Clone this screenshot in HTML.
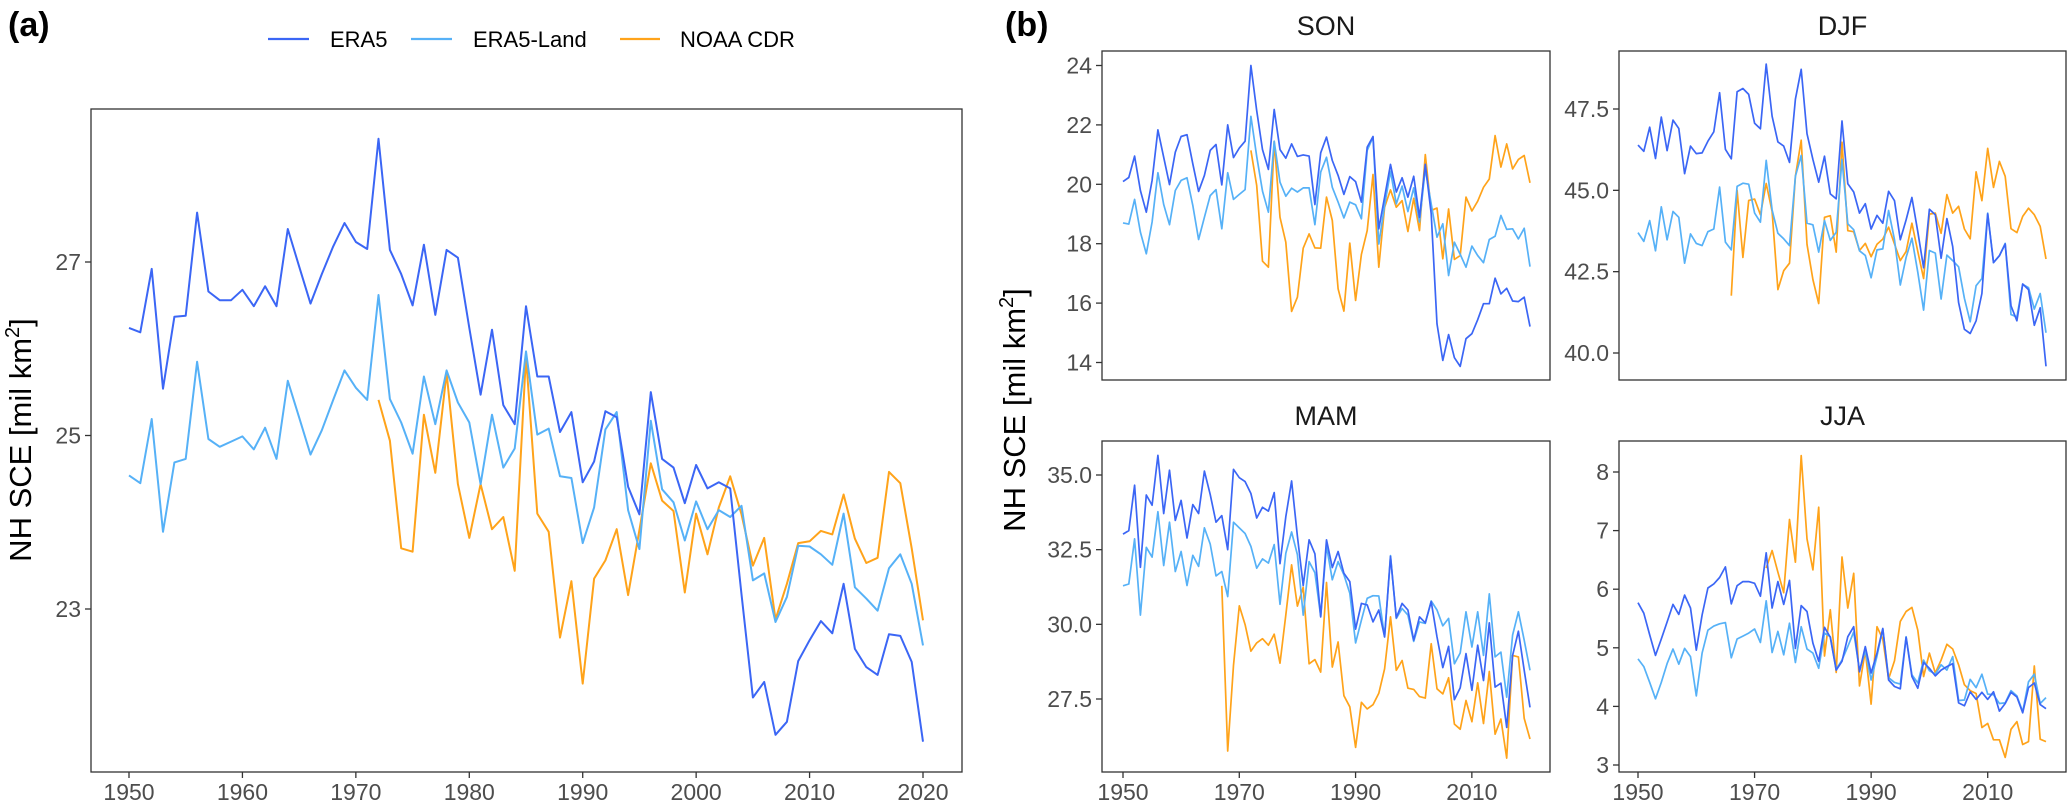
<!DOCTYPE html>
<html><head><meta charset="utf-8"><style>
html,body{margin:0;padding:0;background:#fff;}
svg{display:block;font-family:"Liberation Sans",Arial,sans-serif;}
</style></head><body>
<svg id="chart" width="2067" height="803" viewBox="0 0 2067 803" xmlns="http://www.w3.org/2000/svg">
<text x="8" y="36" font-size="34" font-weight="bold">(a)</text>
<text x="1005" y="36" font-size="34" font-weight="bold">(b)</text>
<g>
<g><line x1="268" y1="39" x2="309" y2="39" stroke="#3b66f5" stroke-width="2.2"/><text x="330" y="47" font-size="22">ERA5</text></g>
<g><line x1="411" y1="39" x2="452" y2="39" stroke="#56b1f7" stroke-width="2.2"/><text x="473" y="47" font-size="22">ERA5-Land</text></g>
<g><line x1="620" y1="39" x2="660" y2="39" stroke="#ffa31a" stroke-width="2.2"/><text x="680" y="47" font-size="22">NOAA CDR</text></g>
</g>
<text transform="translate(31,440) rotate(-90)" text-anchor="middle" font-size="31">NH SCE [mil km<tspan font-size="20" dy="-12">2</tspan><tspan dy="12">]</tspan></text>
<text transform="translate(1025,410) rotate(-90)" text-anchor="middle" font-size="31">NH SCE [mil km<tspan font-size="20" dy="-12">2</tspan><tspan dy="12">]</tspan></text>
</svg>
<script>
const years = Array.from({length:71},(_,i)=>1950+i);
const aEra5 = [26.24,26.19,26.92,25.54,26.37,26.38,27.57,26.66,26.56,26.56,26.68,26.49,26.72,26.49,27.38,26.95,26.52,26.86,27.18,27.45,27.23,27.15,28.42,27.14,26.86,26.50,27.20,26.39,27.14,27.05,26.24,25.47,26.22,25.35,25.13,26.49,25.68,25.68,25.04,25.27,24.46,24.70,25.28,25.21,24.41,24.09,25.50,24.73,24.63,24.22,24.66,24.39,24.46,24.39,23.17,21.98,22.16,21.55,21.70,22.40,22.64,22.86,22.72,23.29,22.54,22.33,22.24,22.71,22.69,22.39,21.47];
const aLand = [24.54,24.45,25.19,23.89,24.69,24.73,25.85,24.96,24.87,24.93,24.99,24.84,25.09,24.73,25.63,25.21,24.78,25.06,25.41,25.75,25.55,25.41,26.62,25.42,25.15,24.79,25.68,25.13,25.75,25.38,25.15,24.44,25.24,24.63,24.85,25.97,25.01,25.08,24.53,24.51,23.76,24.17,25.07,25.27,24.14,23.69,25.17,24.38,24.23,23.79,24.24,23.92,24.14,24.06,24.19,23.33,23.41,22.85,23.14,23.73,23.72,23.63,23.51,24.10,23.25,23.12,22.98,23.47,23.63,23.29,22.58];
const aNoaaStart = 1972;
const aNoaa = [25.41,24.94,23.70,23.66,25.24,24.57,25.72,24.44,23.82,24.44,23.92,24.06,23.44,25.91,24.10,23.89,22.67,23.32,22.14,23.35,23.56,23.92,23.16,23.91,24.68,24.25,24.13,23.19,24.10,23.63,24.17,24.53,24.09,23.50,23.82,22.88,23.29,23.76,23.78,23.90,23.86,24.32,23.81,23.53,23.59,24.58,24.45,23.70,22.87];

const sonEra5 = [20.09,20.23,20.95,19.79,19.06,20.13,21.83,20.91,19.99,21.08,21.61,21.67,20.69,19.76,20.30,21.14,21.34,19.98,22.00,20.90,21.22,21.45,24.00,22.48,21.17,20.50,22.52,21.17,20.88,21.36,20.94,20.99,20.95,19.32,21.06,21.59,20.80,20.30,19.66,20.26,20.09,19.40,21.25,21.61,18.50,19.57,20.67,19.74,20.22,19.57,20.27,18.89,20.67,19.01,15.30,14.07,14.94,14.16,13.87,14.80,14.97,15.44,15.98,15.98,16.84,16.31,16.50,16.07,16.05,16.20,15.21];
const sonLand = [18.70,18.66,19.49,18.39,17.66,18.73,20.39,19.32,18.64,19.79,20.13,20.22,19.29,18.14,18.89,19.62,19.82,18.50,20.39,19.49,19.66,19.82,22.29,20.94,19.77,19.06,21.45,20.07,19.60,19.87,19.74,19.88,19.88,18.64,20.41,20.91,19.90,19.40,18.87,19.40,19.31,18.84,21.14,21.59,17.99,19.29,20.44,19.34,19.94,19.08,19.88,18.73,20.52,19.34,18.22,18.67,16.93,18.05,17.64,17.21,17.92,17.60,17.36,18.14,18.25,18.95,18.48,18.50,18.16,18.52,17.23];
const sonNoaaStart = 1972;
const sonNoaa = [21.14,19.96,17.41,17.21,21.45,18.89,18.05,15.72,16.20,17.85,18.33,17.86,17.85,19.57,18.78,16.48,15.73,18.02,16.09,17.64,18.44,20.33,17.21,19.23,19.81,19.23,19.45,18.41,19.53,18.44,21.00,19.12,19.20,17.49,19.17,17.47,17.60,19.57,19.10,19.43,19.90,20.18,21.64,20.58,21.36,20.52,20.84,20.97,20.05];

const djfEra5 = [46.39,46.20,46.94,45.98,47.25,46.22,47.16,46.90,45.51,46.36,46.13,46.15,46.51,46.80,48.00,46.26,45.97,48.03,48.13,47.95,47.06,46.89,48.88,47.28,46.49,46.36,45.86,47.80,48.72,46.74,45.95,45.25,46.05,44.89,44.74,47.13,45.20,44.95,44.30,44.59,43.81,44.23,43.99,44.97,44.68,43.48,44.09,44.78,43.73,42.62,44.42,44.25,42.91,44.13,43.27,41.55,40.73,40.60,40.99,41.83,44.28,42.78,42.99,43.35,41.45,40.99,42.12,41.95,40.85,41.39,39.59];
const djfLand = [43.70,43.43,44.07,43.14,44.49,43.48,44.35,44.17,42.76,43.66,43.37,43.30,43.73,43.81,45.10,43.41,43.17,45.12,45.22,45.19,44.30,44.02,45.92,44.40,43.68,43.51,43.30,45.43,46.07,43.99,43.94,43.10,44.07,43.46,43.71,45.95,43.97,43.79,43.14,43.00,42.31,43.17,43.20,44.38,43.48,42.09,42.94,43.53,42.48,41.32,43.15,43.07,41.66,43.01,42.84,42.65,41.68,40.96,42.07,42.29,44.30,42.78,42.99,43.37,41.18,41.11,42.11,42.01,41.35,41.83,40.62];
const djfNoaaStart = 1966;
const djfNoaa = [41.76,45.00,42.94,44.69,44.73,44.25,45.21,44.35,41.95,42.53,42.76,45.43,46.54,43.34,42.26,41.52,44.17,44.22,43.10,46.48,43.76,43.73,43.15,43.37,42.96,43.34,43.50,43.87,43.35,42.84,43.12,43.99,43.12,42.29,44.27,44.30,43.68,44.87,44.30,44.51,43.81,43.51,45.57,44.68,46.29,45.09,45.89,45.43,43.82,43.70,44.20,44.45,44.25,43.89,42.89];

const mamEra5 = [33.02,33.14,34.66,31.91,34.33,33.99,35.66,33.71,35.16,33.48,34.15,32.89,34.01,33.71,35.13,34.35,33.42,33.64,32.50,35.19,34.91,34.78,34.38,33.56,33.92,33.79,34.41,32.03,33.60,34.80,32.95,31.30,32.83,32.36,30.25,32.83,31.90,32.44,31.71,31.43,29.84,30.70,30.65,30.08,30.48,29.58,32.27,30.22,30.70,30.48,29.47,30.25,30.05,30.76,29.58,28.55,29.26,27.48,27.87,29.02,27.79,29.30,28.12,30.05,27.90,28.03,26.55,28.96,29.77,28.46,27.22];
const mamLand = [31.29,31.35,32.86,30.31,32.58,32.25,33.77,31.97,33.42,31.77,32.44,31.30,32.31,31.94,33.23,32.69,31.62,31.77,30.93,33.42,33.23,33.04,32.61,31.88,32.19,32.05,32.67,30.67,32.38,33.09,32.33,30.31,32.10,31.73,30.27,32.63,31.49,32.10,31.66,31.04,29.38,30.14,30.87,30.96,30.95,29.58,32.30,30.20,30.53,30.31,29.43,30.08,30.03,30.78,30.48,29.95,30.20,28.68,29.04,30.42,29.24,30.42,28.96,31.02,28.91,29.07,27.56,29.64,30.42,29.47,28.46];
const mamNoaaStart = 1967;
const mamNoaa = [31.29,25.76,28.63,30.62,29.99,29.10,29.38,29.52,29.30,29.67,28.70,30.31,31.99,30.61,31.24,28.68,28.82,28.40,31.40,28.57,29.41,27.61,27.24,25.88,27.39,27.17,27.31,27.69,28.51,30.25,28.46,28.79,27.86,27.82,27.58,27.53,29.35,27.84,27.67,28.21,26.66,26.49,27.45,26.74,28.04,26.68,28.42,26.32,26.83,25.52,28.96,28.91,26.85,26.16];

const jjaEra5 = [5.77,5.59,5.22,4.87,5.15,5.44,5.74,5.57,5.90,5.68,4.96,5.56,6.02,6.09,6.20,6.38,5.75,6.06,6.13,6.13,6.10,5.88,6.62,5.68,6.13,5.74,6.15,4.99,5.72,5.62,5.08,4.77,5.35,5.18,4.62,4.77,5.19,5.36,4.59,5.02,4.57,4.91,5.33,4.45,4.34,4.30,5.18,4.51,4.31,4.75,4.65,4.52,4.62,4.68,4.73,4.06,4.01,4.25,4.12,4.24,4.12,4.25,3.92,4.05,4.24,4.16,3.89,4.32,4.40,4.03,3.96];
const jjaLand = [4.81,4.68,4.41,4.13,4.41,4.73,4.98,4.72,4.99,4.85,4.18,4.91,5.30,5.37,5.41,5.43,4.83,5.15,5.20,5.25,5.32,5.09,5.80,4.92,5.28,4.88,5.42,4.75,5.36,4.98,4.91,4.65,5.25,5.19,4.63,4.79,5.02,5.27,4.62,4.95,4.45,4.86,5.32,4.49,4.41,4.38,5.19,4.54,4.40,4.79,4.61,4.55,4.71,4.62,4.85,4.10,4.11,4.46,4.32,4.55,4.21,4.20,4.05,4.06,4.27,4.18,3.91,4.42,4.55,4.05,4.15];
const jjaNoaaStart = 1972;
const jjaNoaa = [6.36,6.66,6.29,5.94,7.19,6.46,8.28,6.86,6.33,7.40,4.86,5.65,4.58,6.55,5.68,6.27,4.35,4.95,4.04,5.36,5.15,4.47,4.78,5.45,5.62,5.69,5.30,4.51,4.91,4.57,4.79,5.06,4.98,4.71,4.37,4.27,4.22,3.64,3.71,3.43,3.43,3.13,3.61,3.74,3.35,3.40,4.69,3.44,3.40];

const aYTicks = ["23","25","27"];
const aXTicks = ["1950","1960","1970","1980","1990","2000","2010","2020"];
const bXTicks = ["1950","1970","1990","2010"];
const sonYTicks = ["14","16","18","20","22","24"];
const djfYTicks = ["40.0","42.5","45.0","47.5"];
const mamYTicks = ["27.5","30.0","32.5","35.0"];
const jjaYTicks = ["3","4","5","6","7","8"];

const NS = "http://www.w3.org/2000/svg";
const svg = document.getElementById('chart');
const C_ERA5 = "#3b66f5", C_LAND = "#56b1f7", C_NOAA = "#ffa31a";
function mk(tag, attrs, parent){const e=document.createElementNS(NS,tag);for(const k in attrs)e.setAttribute(k,attrs[k]);(parent||svg).appendChild(e);return e;}

function panel(cfg){
  const g = mk('g',{});
  
  
  const xs = v => cfg.x0px + (v - cfg.x0v) * (cfg.x1px - cfg.x0px) / (cfg.x1v - cfg.x0v);
  const ys = v => cfg.y0px + (v - cfg.y0v) * (cfg.y1px - cfg.y0px) / (cfg.y1v - cfg.y0v);
  const box = mk('rect',{x:cfg.L,y:cfg.T,width:cfg.R-cfg.L,height:cfg.B-cfg.T,fill:'#fff',stroke:'#333',"stroke-width":1.3},g);
  
  
  if(cfg.title){
    const t = mk('text',{x:(cfg.L+cfg.R)/2,y:cfg.T-16,"text-anchor":"middle","font-size":27,fill:'#1a1a1a'},g);
    t.textContent = cfg.title;
    
    
  }
  cfg.xticks.forEach(lab=>{
    const x = xs(+lab);
    mk('line',{x1:x,y1:cfg.B,x2:x,y2:cfg.B+6,stroke:'#333',"stroke-width":1.3},g);
    const t = mk('text',{x:x,y:cfg.B+28,"text-anchor":"middle","font-size":23,fill:'#4d4d4d'},g);
    t.textContent = lab;
    
    
  });
  cfg.yticks.forEach(lab=>{
    const y = ys(+lab);
    mk('line',{x1:cfg.L-6,y1:y,x2:cfg.L,y2:y,stroke:'#333',"stroke-width":1.3},g);
    const t = mk('text',{x:cfg.L-10,y:y+8,"text-anchor":"end","font-size":23,fill:'#4d4d4d'},g);
    t.textContent = lab;
    
    
  });
  cfg.series.forEach(s=>{
    const pts = s.vals.map((v,i)=>xs(s.start+i).toFixed(1)+','+ys(v).toFixed(1)).join(' ');
    const p = mk('polyline',{points:pts,fill:'none',stroke:s.color,"stroke-width":cfg.lw,"stroke-linejoin":"round"},g);
    
    
  });
}

panel({name:'panel-a',L:91,R:962,T:109,B:772,x0v:1950,x1v:2020,x0px:129,x1px:923,y0v:27,y1v:23,y0px:262,y1px:609,
  xticks:aXTicks,yticks:aYTicks,lw:2,series:[
  {key:'noaa-cdr',vals:aNoaa,start:aNoaaStart,color:C_NOAA},
  {key:'era5-land',vals:aLand,start:1950,color:C_LAND},
  {key:'era5',vals:aEra5,start:1950,color:C_ERA5}]});
panel({name:'panel-son',title:'SON',L:1102,R:1550,T:51,B:380,x0v:1950,x1v:2020,x0px:1123,x1px:1530,y0v:24,y1v:14,y0px:65.5,y1px:362.5,
  xticks:[],yticks:sonYTicks,lw:1.7,series:[
  {key:'noaa-cdr',vals:sonNoaa,start:sonNoaaStart,color:C_NOAA},
  {key:'era5-land',vals:sonLand,start:1950,color:C_LAND},
  {key:'era5',vals:sonEra5,start:1950,color:C_ERA5}]});
panel({name:'panel-djf',title:'DJF',L:1619,R:2066,T:51,B:380,x0v:1950,x1v:2020,x0px:1638,x1px:2046,y0v:47.5,y1v:40,y0px:109,y1px:353,
  xticks:[],yticks:djfYTicks,lw:1.7,series:[
  {key:'noaa-cdr',vals:djfNoaa,start:djfNoaaStart,color:C_NOAA},
  {key:'era5-land',vals:djfLand,start:1950,color:C_LAND},
  {key:'era5',vals:djfEra5,start:1950,color:C_ERA5}]});
panel({name:'panel-mam',title:'MAM',L:1102,R:1550,T:441,B:772,x0v:1950,x1v:2020,x0px:1123,x1px:1530,y0v:35,y1v:27.5,y0px:475,y1px:699,
  xticks:bXTicks,yticks:mamYTicks,lw:1.7,series:[
  {key:'noaa-cdr',vals:mamNoaa,start:mamNoaaStart,color:C_NOAA},
  {key:'era5-land',vals:mamLand,start:1950,color:C_LAND},
  {key:'era5',vals:mamEra5,start:1950,color:C_ERA5}]});
panel({name:'panel-jja',title:'JJA',L:1619,R:2066,T:441,B:772,x0v:1950,x1v:2020,x0px:1638,x1px:2046,y0v:8,y1v:3,y0px:472,y1px:765,
  xticks:bXTicks,yticks:jjaYTicks,lw:1.7,series:[
  {key:'noaa-cdr',vals:jjaNoaa,start:jjaNoaaStart,color:C_NOAA},
  {key:'era5-land',vals:jjaLand,start:1950,color:C_LAND},
  {key:'era5',vals:jjaEra5,start:1950,color:C_ERA5}]});
</script>
</body></html>
